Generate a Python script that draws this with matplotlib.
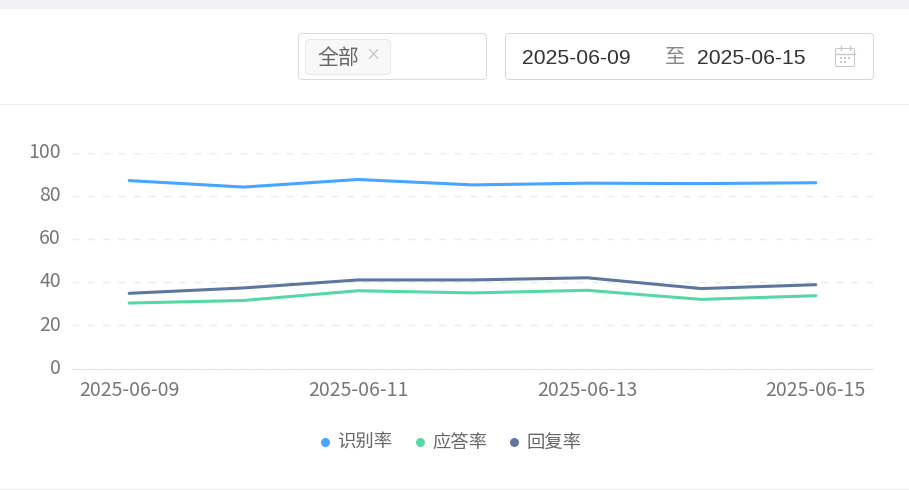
"""Line chart of daily rates with the filter bar above it."""

import matplotlib
matplotlib.use('Agg')
import matplotlib.pyplot as plt
from matplotlib.patches import FancyBboxPatch, Rectangle
from matplotlib.transforms import ScaledTranslation

plt.rcParams['font.family'] = ['Noto Sans CJK SC', 'DejaVu Sans']

fechas = ['2025-06-09', '2025-06-10', '2025-06-11', '2025-06-12',
          '2025-06-13', '2025-06-14', '2025-06-15']
shibie = [87.0, 84.0, 87.5, 85.0, 85.8, 85.6, 86.0]
yingda = [30.3, 31.5, 36.0, 35.0, 36.2, 32.0, 33.7]
huifu = [34.8, 37.3, 41.0, 41.0, 42.0, 37.0, 38.8]
y_ticks = [0, 20, 40, 60, 80, 100]
series_names = ['识别率', '应答率', '回复率']
series_colors = ['#45A5FF', '#55D8A4', '#5D76A0']

W, H = 909, 490
fig = plt.figure(figsize=(W / 100, H / 100), dpi=100, facecolor='white')

# capa de fondo en pixeles para los controles de arriba
bg = fig.add_axes([0, 0, 1, 1])
bg.set_xlim(0, W)
bg.set_ylim(H, 0)
bg.axis('off')


def caja(x, y, w, h, edge, face='white', r=4):
    bg.add_patch(FancyBboxPatch((x + r, y + r), w - 2 * r, h - 2 * r,
                                boxstyle=f'round,pad={r},rounding_size={r}',
                                edgecolor=edge, facecolor=face, linewidth=0.75))


bg.add_patch(Rectangle((0, 0), W, 9, facecolor='#F0F2F5', edgecolor='none'))
bg.plot([0, W], [104.5, 104.5], color='#EEEEEE', lw=0.75)
bg.plot([0, W], [489, 489], color='#EEEEEE', lw=1)

caja(298.5, 33.5, 188, 46, '#DCDCDC')
caja(305.5, 39.5, 85, 35, '#E8E8E8', '#F8F8F8')
bg.text(338, 58, '全部', fontsize=15, color='#666666', ha='center', va='center')
bg.text(372.5, 55.5, '×', fontsize=11, color='#BBBBBB', ha='center', va='center')

caja(505.5, 33.5, 368, 46, '#D8D8D8')
bg.text(522, 58, '2025-06-09', fontsize=15.2, color='#333333', va='center',
        family='Liberation Sans')
bg.text(675, 58, '至', fontsize=14.5, color='#888888', ha='center', va='center')
bg.text(697, 58, '2025-06-15', fontsize=15.2, color='#333333', va='center',
        family='Liberation Sans')

# icono del calendario
caja(835.5, 48.5, 19, 18, '#C8C8C8', r=1.5)
bg.plot([835.5, 854.5], [54, 54], color='#C8C8C8', lw=1)
bg.plot([840.5, 840.5], [46, 50], color='#C8C8C8', lw=1)
bg.plot([849.5, 849.5], [46, 50], color='#C8C8C8', lw=1)
bg.scatter([841, 845, 849, 841, 845], [58, 58, 58, 62, 62], s=1.5,
           color='#C8C8C8', marker='s', linewidths=0)

# grafico principal
ax = fig.add_axes([72 / W, 1 - 368.5 / H, 801 / W, 216 / H])
ax.patch.set_alpha(0)
for valores, nombre, color in zip([shibie, yingda, huifu], series_names, series_colors):
    ax.plot(fechas, valores, color=color, lw=2.2, label=nombre, solid_capstyle='round')

ax.set_xlim(-0.5, 6.5)
ax.set_ylim(0, 100)
ax.set_yticks(y_ticks)
ax.set_xticks(range(0, len(fechas), 2))
ax.set_xticklabels(fechas[::2])
ax.grid(axis='y', color='#EBEBEB', lw=1, linestyle=(0, (5, 6)))
ax.set_axisbelow(True)
for lado in ['top', 'right', 'left']:
    ax.spines[lado].set_visible(False)
ax.spines['bottom'].set_color('#E6E6E6')
ax.tick_params(axis='both', length=0, labelsize=14, labelcolor='#777777')
ax.tick_params(axis='x', pad=8.5)
ax.tick_params(axis='y', pad=8)

# las etiquetas del eje y van un poco por encima de su linea
subir = ScaledTranslation(0, 2 / 72, fig.dpi_scale_trans)
for etiqueta in ax.get_yticklabels():
    etiqueta.set_transform(etiqueta.get_transform() + subir)

# leyenda a mano, en pixeles
for px, nombre, color in zip([325, 420, 514], series_names, series_colors):
    bg.scatter([px], [441.5], s=42, color=color, linewidths=0)
    bg.text(px + 12, 443, nombre, fontsize=13.2, color='#666666', va='center')

fig.savefig('out.png', dpi=100)
